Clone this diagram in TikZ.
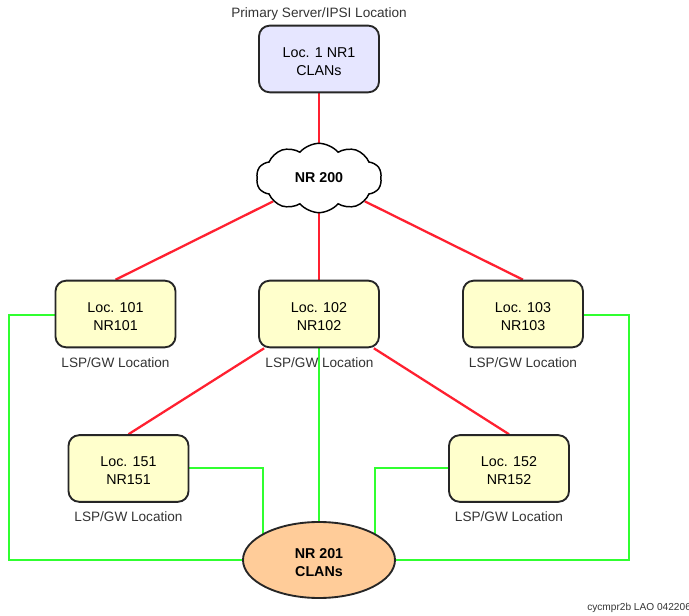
\documentclass[tikz,border=0pt]{standalone}
\usepackage{fontspec}
\setmainfont{Liberation Sans}
\usetikzlibrary{shapes.geometric,shapes.symbols,backgrounds}
\definecolor{locyellow}{HTML}{FFFFCC}
\definecolor{locblue}{HTML}{E6E6FF}
\definecolor{locorange}{HTML}{FFCC99}
\definecolor{linkred}{HTML}{FF2030}
\definecolor{linkgreen}{HTML}{30FF30}

\begin{document}
\begin{tikzpicture}[x=0.75pt,y=-0.75pt,font=\fontsize{10.7}{13.6}\selectfont,
loc/.style ={rectangle,rounded corners=8pt,draw=black!85,line width=1.4pt,fill=locyellow,
align=center,minimum width=90pt,minimum height=50pt,inner sep=0pt,text height=24.5pt},
caption/.style ={text=black!80,font=\fontsize{10.2}{12}\selectfont,inner sep=0pt},
redlink/.style ={linkred,line width=1.7pt},
greenlink/.style ={linkgreen,line width=1.7pt}]
\useasboundingbox (0,0) rectangle (689,616);

\node[caption] (top) at (319,14) {Primary Server/IPSI Location};
\node[loc,fill=locblue] (1) at (319,59) {Loc. 1 NR1\\CLANs};
\node[cloud,cloud puffs=10,cloud puff arc=100,aspect=2,draw=black,line width=1.1pt,fill=white,
minimum width=94pt,minimum height=52pt,inner sep=0pt,font=\fontsize{10.7}{13.6}\selectfont\bfseries] (200) at (319,178) {NR 200};
\node[loc] (101) at (115.5,314) {Loc. 101\\NR101};
\node[loc] (102) at (319,314) {Loc. 102\\NR102};
\node[loc] (103) at (523,314) {Loc. 103\\NR103};
\node[loc] (151) at (128.5,468.5) {Loc. 151\\NR151};
\node[loc] (152) at (509,468.5) {Loc. 152\\NR152};
\node[ellipse,draw=black!85,line width=1.4pt,fill=locorange,align=center,minimum width=114pt,minimum height=57pt,
inner sep=0pt,text height=24.5pt,font=\fontsize{10.7}{13.6}\selectfont\bfseries] (201) at (319,560) {NR 201\\CLANs};

\node[caption] (lab101) at (115.5,363) {LSP/GW Location};
\node[caption] (lab102) at (319.5,363) {LSP/GW Location};
\node[caption] (lab103) at (523,363) {LSP/GW Location};
\node[caption] (lab151) at (128.5,517) {LSP/GW Location};
\node[caption] (lab152) at (509,517) {LSP/GW Location};
\node[caption,anchor=west,font=\fontsize{7.6}{9}\selectfont] (mark) at (587,608) {cycmpr2b LAO 042206};

\coordinate (c101) at (9,315);
\coordinate (c201w) at (9,560);
\coordinate (c103) at (629,315);
\coordinate (c201e) at (629,560);
\coordinate (c151) at (263,468);
\coordinate (c151e) at (263,535);
\coordinate (c152) at (375,468);
\coordinate (c152e) at (375,535);

\begin{scope}[on background layer]
\draw[redlink] (1) -- (200);
\draw[redlink] (200.207) -- (101.north);
\draw[redlink] (200) -- (102);
\draw[redlink] (200.333) -- (103.north);
\draw[redlink] (102.212) -- (151.north);
\draw[redlink] (102.328) -- (152.north);
\draw[greenlink] (101.west |- c101) -- (c101) -- (c201w) -- (201.west);
\draw[greenlink] (103.east |- c103) -- (c103) -- (c201e) -- (201.east);
\draw[greenlink] (102) -- (201);
\draw[greenlink] (151.east |- c151) -- (c151) -- (c151e);
\draw[greenlink] (152.west |- c152) -- (c152) -- (c152e);
\end{scope}
\end{tikzpicture}
\end{document}
